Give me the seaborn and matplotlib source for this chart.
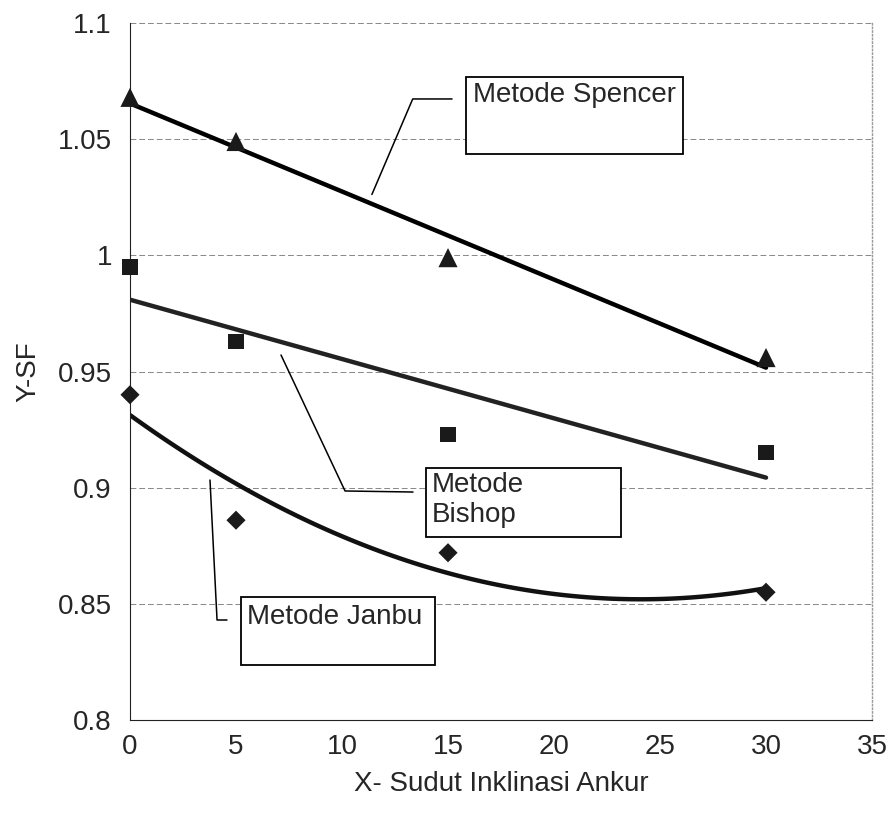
import numpy as np
import pandas as pd
import matplotlib
matplotlib.use("Agg")
import matplotlib.pyplot as plt
from matplotlib.patches import Rectangle
import seaborn as sns

# Data
sudut = [0, 5, 15, 30]
sf_spencer = [1.068, 1.049, 0.999, 0.956]
sf_bishop = [0.995, 0.963, 0.923, 0.915]
sf_janbu = [0.940, 0.886, 0.872, 0.855]

metode = ['Metode Spencer', 'Metode Bishop', 'Metode Janbu']
fit_order = [1, 1, 2]
marker_map = {'Metode Spencer': '^', 'Metode Bishop': 's', 'Metode Janbu': 'D'}
size_map = {'Metode Spencer': 190, 'Metode Bishop': 120, 'Metode Janbu': 95}

df = pd.DataFrame({
    'x': sudut * 3,
    'y': sf_spencer + sf_bishop + sf_janbu,
    'metode': [m for m in metode for _ in sudut],
})

# Trend lines (Excel-style least squares fits)
xs = np.linspace(min(sudut), max(sudut), 100)
trend_rows = []
for m, order in zip(metode, fit_order):
    sub = df[df['metode'] == m]
    coef = np.polyfit(sub['x'], sub['y'], order)
    for xv, yv in zip(xs, np.polyval(coef, xs)):
        trend_rows.append({'x': xv, 'y': yv, 'metode': m})
df_trend = pd.DataFrame(trend_rows)

sns.set_style('white')
plt.rcParams['font.family'] = ['Liberation Sans', 'DejaVu Sans']

fig = plt.figure(figsize=(8.88, 8.30), dpi=100)
ax = fig.add_axes([0.1464, 0.1325, 0.8356, 0.8398])

sns.lineplot(data=df_trend, x='x', y='y', hue='metode', palette=['black', '#222222', '#111111'],
             linewidth=3.2, legend=False, ax=ax, sort=False)
for m in metode:
    sns.scatterplot(data=df[df['metode'] == m], x='x', y='y', marker=marker_map[m],
                    color='#1a1a1a', s=size_map[m], edgecolor='none', legend=False, ax=ax,
                    zorder=5, clip_on=False)

ax.set_xlim(0, 35)
ax.set_ylim(0.8, 1.1)
ax.set_xticks(range(0, 36, 5))
ax.set_yticks([0.8, 0.85, 0.9, 0.95, 1.0, 1.05, 1.1])
ax.set_yticklabels(['0.8', '0.85', '0.9', '0.95', '1', '1.05', '1.1'])
ax.tick_params(axis='both', labelsize=20, direction='out', length=5, width=0.8, color='#444444', pad=8)
ax.tick_params(axis='x', pad=5)
ax.grid(axis='y', color='#888888', linestyle=(0, (6, 3)), linewidth=0.7)

ax.spines['left'].set_color('#222222')
ax.spines['bottom'].set_color('#222222')
ax.spines['top'].set_visible(False)
ax.spines['right'].set_color('#999999')
ax.spines['right'].set_linestyle(':')
ax.spines['right'].set_linewidth(1.0)

ax.set_xlabel('X- Sudut Inklinasi Ankur', fontsize=20, labelpad=8)
ax.set_ylabel('Y-SF', fontsize=20, labelpad=12)

# Callout boxes
boxes = [
    (0.453, 0.812, 0.292, 0.1105),
    (0.399, 0.2626, 0.263, 0.099),
    (0.1496, 0.0789, 0.2614, 0.0976),
]
for bx, by, bw, bh in boxes:
    ax.add_patch(Rectangle((bx, by), bw, bh, transform=ax.transAxes, facecolor='white',
                           edgecolor='black', linewidth=1.3, zorder=6))

ax.text(0.462, 0.897, 'Metode Spencer', transform=ax.transAxes, fontsize=20, va='center', ha='left', zorder=7)
ax.text(0.406, 0.356, 'Metode\nBishop', transform=ax.transAxes, fontsize=20, va='top', ha='left',
        linespacing=1.2, zorder=7)
ax.text(0.1577, 0.148, 'Metode Janbu', transform=ax.transAxes, fontsize=20, va='center', ha='left', zorder=7)

# Leader lines
leaders = [
    ([0.326, 0.381, 0.434], [0.754, 0.891, 0.891]),
    ([0.2035, 0.2898, 0.3814], [0.5237, 0.3286, 0.3271]),
    ([0.1078, 0.1173, 0.1307], [0.3443, 0.1435, 0.1435]),
]
for lx, ly in leaders:
    ax.plot(lx, ly, transform=ax.transAxes, color='black', linewidth=1.1, zorder=6)

fig.savefig('out.png', dpi=100)
